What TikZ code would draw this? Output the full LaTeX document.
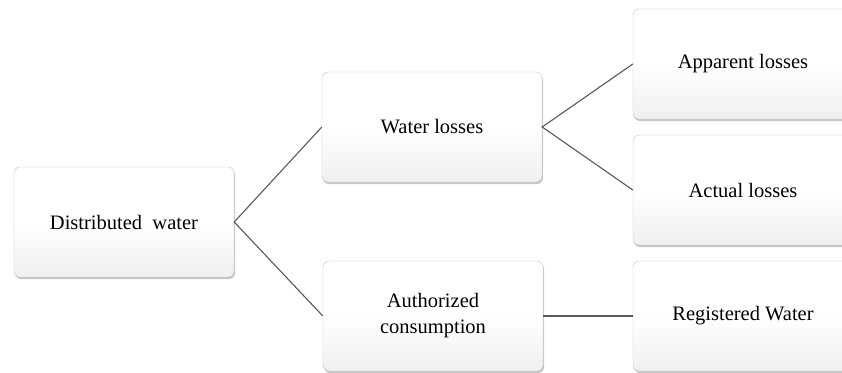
\documentclass[tikz,border=0pt]{standalone}
\usepackage{fontspec}
\setmainfont{Liberation Serif}
\usetikzlibrary{shadows}
\tikzset{
  box/.style={draw=gray!45, rounded corners=6pt, minimum width=220pt, minimum height=110pt,
    top color=white, bottom color=gray!12, middle color=white, align=center,
    font=\fontsize{20.5}{26}\selectfont,
    drop shadow={shadow xshift=1pt, shadow yshift=-2pt, opacity=.45, fill=gray}},
  link/.style={draw=black!65, line width=1.1pt}
}
\begin{document}
\begin{tikzpicture}[x=1pt, y=-1pt]
\clip (0,0) rectangle (842,372);
\fill[white] (0,0) rectangle (842,372);
\node[box] (dist) at (124,222) {Distributed\ \ water};
\node[box] (wloss) at (432,127) {Water losses};
\node[box] (auth) at (433,316) {Authorized\\consumption};
\node[box] (appar) at (743,64) {Apparent losses};
\node[box] (actual) at (743,190) {Actual losses};
\node[box] (regist) at (743,316) {Registered Water};
\draw[link] (wloss.west) -- (dist.east) -- (auth.west);
\draw[link] (appar.west) -- (wloss.east) -- (actual.west);
\draw[link] (auth.east) -- (regist.west);
\end{tikzpicture}
\end{document}
